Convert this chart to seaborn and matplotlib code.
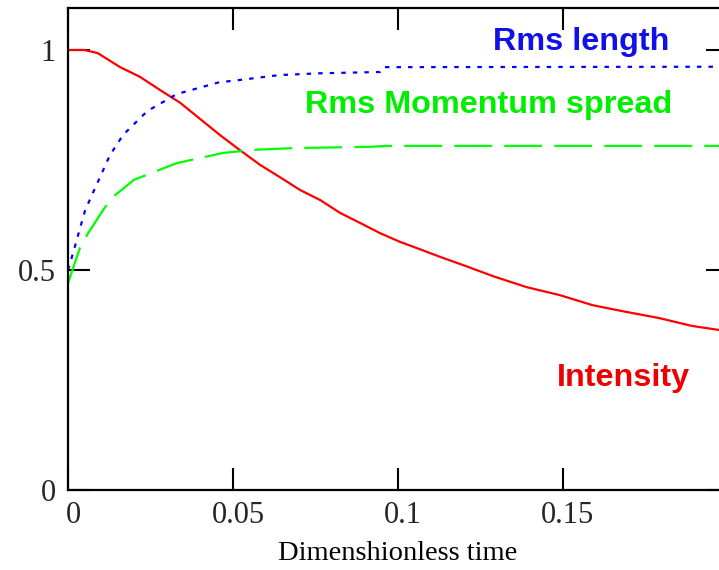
import matplotlib
matplotlib.use("Agg")
import matplotlib.pyplot as plt
import matplotlib.transforms as mtransforms
import seaborn as sns
import pandas as pd

# ---- data ----
t_intensity = [0, 0.005, 0.009, 0.0158, 0.0218, 0.0279, 0.034, 0.046, 0.052, 0.0582,
               0.0642, 0.0703, 0.0764, 0.0824, 0.0885, 0.0945, 0.1006, 0.1067, 0.1127,
               0.1209, 0.1288, 0.139, 0.149, 0.159, 0.169, 0.179, 0.189, 0.197, 0.2]
intensity = [1.0, 1.0, 0.993, 0.961, 0.939, 0.909, 0.88, 0.807, 0.773, 0.739,
             0.711, 0.682, 0.659, 0.63, 0.607, 0.584, 0.564, 0.547, 0.53,
             0.508, 0.486, 0.461, 0.443, 0.42, 0.405, 0.391, 0.373, 0.364, 0.36]

t_length = [0, 0.0012, 0.0052, 0.0097, 0.0127, 0.0167, 0.024, 0.033, 0.046, 0.05,
            0.064, 0.076, 0.0945, 0.0955, 0.2]
rms_length = [0.5, 0.53, 0.636, 0.711, 0.761, 0.807, 0.861, 0.9, 0.927, 0.93,
              0.943, 0.947, 0.95, 0.961, 0.962]

t_mom = [0, 0.0036, 0.0058, 0.0106, 0.0136, 0.02, 0.033, 0.047, 0.056, 0.068,
         0.0915, 0.0967, 0.2]
rms_mom = [0.47, 0.55, 0.58, 0.636, 0.666, 0.705, 0.743, 0.766, 0.773, 0.777,
           0.78, 0.782, 0.782]

x_ticks = [0, 0.05, 0.1, 0.15]
x_tick_labels = ["0", "0.05", "0.1", "0.15"]
y_ticks = [0, 0.5, 1]
y_tick_labels = ["0", "0.5", "1"]
x_label = "Dimenshionless time"
series_labels = ["Rms length", "Rms Momentum spread", "Intensity"]

# ---- figure ----
sns.set_style("white")
W, H = 719, 570
fig = plt.figure(figsize=(W / 100, H / 100), dpi=100)
ax = fig.add_axes([68 / W, 80 / H, 660 / W, 482 / H])

df_i = pd.DataFrame({"t": t_intensity, "v": intensity})
df_l = pd.DataFrame({"t": t_length, "v": rms_length})
df_m = pd.DataFrame({"t": t_mom, "v": rms_mom})

sns.lineplot(data=df_i, x="t", y="v", ax=ax, color="#ff0000", lw=1.6,
             sort=False, estimator=None)
sns.lineplot(data=df_l, x="t", y="v", ax=ax, color="#0000ff", lw=1.6,
             sort=False, estimator=None, linestyle=(0, (2.0, 3.2)))
sns.lineplot(data=df_m, x="t", y="v", ax=ax, color="#00ff00", lw=1.6,
             sort=False, estimator=None, linestyle=(0, (17, 5.5)))

ax.set_xlim(0, 0.2)
ax.set_ylim(0, 482 / 440)

serif = ["Liberation Serif", "DejaVu Serif"]
sans = ["Liberation Sans", "DejaVu Sans"]

ax.set_xticks(x_ticks)
ax.set_xticklabels(x_tick_labels, family=serif, fontsize=22)
ax.set_yticks(y_ticks)
ax.set_yticklabels(y_tick_labels, family=serif, fontsize=22)
ax.tick_params(axis="both", direction="in", length=16, width=1.5, color="black",
               top=True, right=True, bottom=True, left=True)
ax.tick_params(axis="x", pad=8)
ax.tick_params(axis="y", pad=9)

# shift x tick labels slightly right as in the reference
offset = mtransforms.ScaledTranslation(5 / 100, 0, fig.dpi_scale_trans)
for lab in ax.get_xticklabels():
    lab.set_transform(lab.get_transform() + offset)

ax.set_xlabel(x_label, family=serif, fontsize=20.5, labelpad=8, color="black")
ax.set_ylabel("")

for s in ax.spines.values():
    s.set_visible(True)
    s.set_color("black")
    s.set_linewidth(1.6)

ax.text(0.1288, 1.0, series_labels[0], color="#1010e8", family=sans,
        fontweight="bold", fontsize=23.3, ha="left", va="baseline")
ax.text(0.0718, 0.857, series_labels[1], color="#00ee00", family=sans,
        fontweight="bold", fontsize=23.3, ha="left", va="baseline")
ax.text(0.148, 0.236, series_labels[2], color="#ee0000", family=sans,
        fontweight="bold", fontsize=23.3, ha="left", va="baseline")

fig.savefig("out.png", dpi=100)
